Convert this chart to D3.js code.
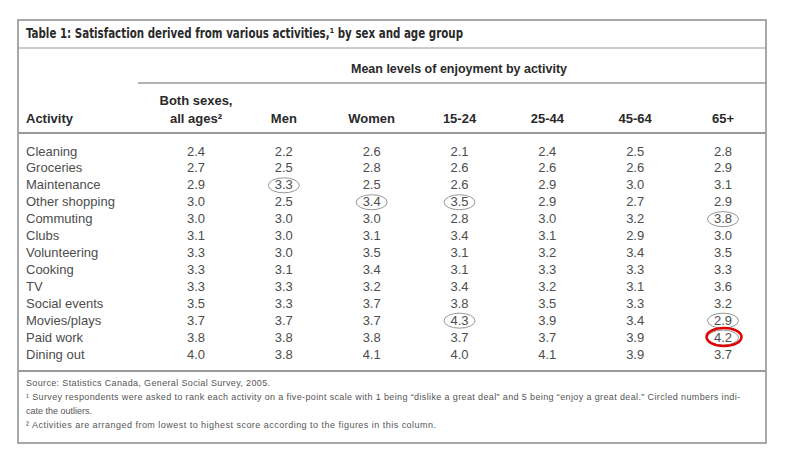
<!DOCTYPE html>
<html>
<head>
<meta charset="utf-8">
<script src="https://cdn.jsdelivr.net/npm/d3@7"></script>
<style>
  body { margin: 0; background: #fff; }
  svg text { font-family: "Liberation Sans", Arial, Helvetica, sans-serif; }
</style>
</head>
<body>
<div id="chart"></div>
<script>
// Table 1 data
const activities = ['Cleaning', 'Groceries', 'Maintenance', 'Other shopping', 'Commuting', 'Clubs',
  'Volunteering', 'Cooking', 'TV', 'Social events', 'Movies/plays', 'Paid work', 'Dining out'];
const columns = ['both', 'men', 'women', 'a15', 'a25', 'a45', 'a65'];
const bothSexes = [2.4, 2.7, 2.9, 3.0, 3.0, 3.1, 3.3, 3.3, 3.3, 3.5, 3.7, 3.8, 4.0];
const men       = [2.2, 2.5, 3.3, 2.5, 3.0, 3.0, 3.0, 3.1, 3.3, 3.3, 3.7, 3.8, 3.8];
const women     = [2.6, 2.8, 2.5, 3.4, 3.0, 3.1, 3.5, 3.4, 3.2, 3.7, 3.7, 3.8, 4.1];
const age15_24  = [2.1, 2.6, 2.6, 3.5, 2.8, 3.4, 3.1, 3.1, 3.4, 3.8, 4.3, 3.7, 4.0];
const age25_44  = [2.4, 2.6, 2.9, 2.9, 3.0, 3.1, 3.2, 3.3, 3.2, 3.5, 3.9, 3.7, 4.1];
const age45_64  = [2.5, 2.6, 3.0, 2.7, 3.2, 2.9, 3.4, 3.3, 3.1, 3.3, 3.4, 3.9, 3.9];
const age65plus = [2.8, 2.9, 3.1, 2.9, 3.8, 3.0, 3.5, 3.3, 3.6, 3.2, 2.9, 4.2, 3.7];
// circled outliers: [activity, column]
const outliers = [['Maintenance', 'men'], ['Other shopping', 'women'], ['Other shopping', 'a15'],
  ['Commuting', 'a65'], ['Movies/plays', 'a15'], ['Movies/plays', 'a65'], ['Paid work', 'a65']];
const highlighted = [['Paid work', 'a65']];

const title = 'Table 1: Satisfaction derived from various activities,¹ by sex and age group';
const subtitle = 'Mean levels of enjoyment by activity';
const footnotes = [
  'Source: Statistics Canada, General Social Survey, 2005.',
  '¹ Survey respondents were asked to rank each activity on a five-point scale with 1 being \u201cdislike a great deal\u201d and 5 being \u201cenjoy a great deal.\u201d Circled numbers indi-',
  'cate the outliers.',
  '² Activities are arranged from lowest to highest score according to the figures in this column.'
];
const footnoteWidths = [244, 714, null, 410];

const series = [bothSexes, men, women, age15_24, age25_44, age45_64, age65plus];
const headers = [['Both sexes,', 'all ages²'], ['Men'], ['Women'], ['15-24'], ['25-44'], ['45-64'], ['65+']];

const W = 787, H = 457;
const svg = d3.select('#chart').append('svg')
  .attr('width', W).attr('height', H);

const x = d3.scalePoint().domain(columns).range([196, 723]);
const y = d3.scalePoint().domain(activities).range([151, 354]);

const grey = '#9a9a9a';

// frame and rules
svg.append('rect')
  .attr('x', 18).attr('y', 20).attr('width', 748).attr('height', 423)
  .style('fill', 'none').style('stroke', '#8c8c8c').style('stroke-width', 1.5);

const rules = [
  { x1: 18, x2: 766, y: 48, w: 1.2 },
  { x1: 138, x2: 766, y: 83, w: 1.5 },
  { x1: 18, x2: 766, y: 133, w: 2 },
  { x1: 18, x2: 766, y: 371, w: 2 }
];
svg.append('g').selectAll('line')
  .data(rules)
  .enter().append('line')
  .attr('x1', d => d.x1).attr('x2', d => d.x2)
  .attr('y1', d => d.y).attr('y2', d => d.y)
  .style('stroke', grey).style('stroke-width', d => d.w);

// title
svg.append('text')
  .attr('x', 26).attr('y', 38)
  .attr('textLength', 437).attr('lengthAdjust', 'spacingAndGlyphs')
  .style('font-family', '"Liberation Sans Narrow", "DejaVu Sans Condensed", "Liberation Sans", sans-serif')
  .style('font-size', '14px')
  .style('font-weight', 'bold')
  .style('fill', '#2a2a2a')
  .text(title);

svg.append('text')
  .attr('x', 459).attr('y', 73)
  .attr('text-anchor', 'middle')
  .style('font-size', '12.5px').style('font-weight', 'bold').style('fill', '#2a2a2a')
  .text(subtitle);

// column headers
svg.append('text')
  .attr('x', 26).attr('y', 123)
  .style('font-size', '13px').style('font-weight', 'bold').style('fill', '#2a2a2a')
  .text('Activity');

const head = svg.append('g').selectAll('text')
  .data(columns)
  .enter().append('text')
  .attr('text-anchor', 'middle')
  .style('font-size', '13px').style('font-weight', 'bold').style('fill', '#2a2a2a');
head.selectAll('tspan')
  .data((d, i) => headers[i].map((t, j, arr) => ({ t, col: d, line: j, n: arr.length })))
  .enter().append('tspan')
  .attr('x', d => x(d.col))
  .attr('y', d => 123 - (d.n - 1 - d.line) * 18)
  .text(d => d.t);

// activity labels
svg.append('g').selectAll('text')
  .data(activities)
  .enter().append('text')
  .attr('x', 26).attr('y', d => y(d)).attr('dy', '0.35em')
  .style('font-size', '13px').style('fill', '#4d4d4d')
  .text(d => d);

// values
const cells = [];
columns.forEach((c, ci) => {
  activities.forEach((a, ai) => cells.push({ col: c, act: a, v: series[ci][ai] }));
});
const fmt = d3.format('.1f');
svg.append('g').selectAll('text')
  .data(cells)
  .enter().append('text')
  .attr('x', d => x(d.col)).attr('y', d => y(d.act)).attr('dy', '0.35em')
  .attr('text-anchor', 'middle')
  .style('font-size', '13px').style('fill', '#4d4d4d')
  .text(d => fmt(d.v));

// outlier circles
svg.append('g').selectAll('ellipse')
  .data(outliers)
  .enter().append('ellipse')
  .attr('cx', d => x(d[1])).attr('cy', d => y(d[0]) + 0.5)
  .attr('rx', 15.5).attr('ry', 7.5)
  .style('fill', 'none').style('stroke', '#8a8a8a').style('stroke-width', 0.9);

svg.append('g').selectAll('ellipse')
  .data(highlighted)
  .enter().append('ellipse')
  .attr('cx', d => x(d[1]) + 1).attr('cy', d => y(d[0]))
  .attr('rx', 17.5).attr('ry', 9)
  .style('fill', 'none').style('stroke', '#e00000').style('stroke-width', 2.5);

// footnotes
svg.append('g').selectAll('text')
  .data(footnotes)
  .enter().append('text')
  .attr('x', 26).attr('y', (d, i) => 386 + i * 14)
  .attr('textLength', (d, i) => footnoteWidths[i])
  .attr('lengthAdjust', 'spacing')
  .style('font-size', '9px').style('fill', '#555')
  .text(d => d);
</script>
</body>
</html>
